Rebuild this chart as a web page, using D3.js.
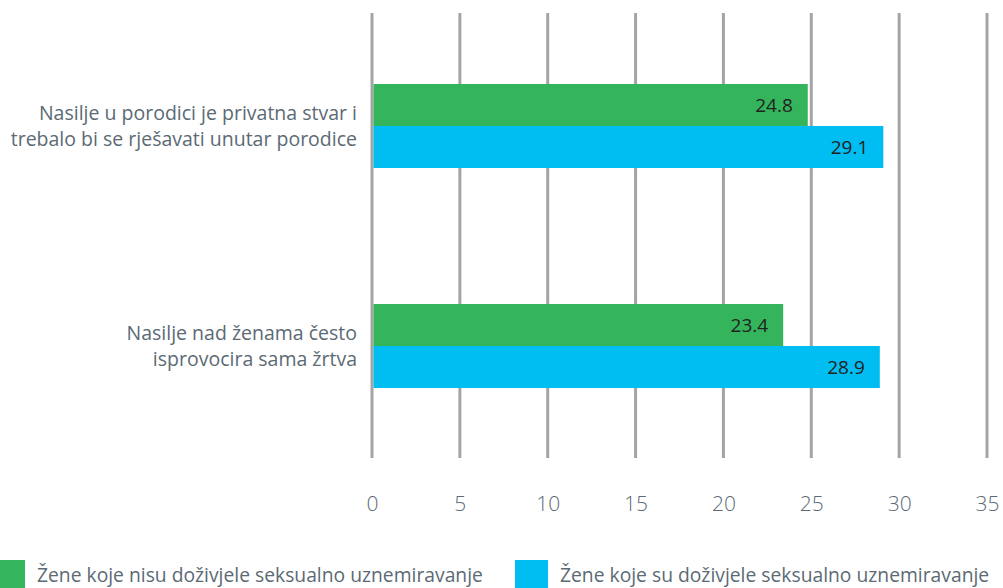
<!DOCTYPE html>
<html><head><meta charset="utf-8">
<script src="https://cdn.jsdelivr.net/npm/d3@7"></script>
<style>
html,body{margin:0;padding:0;background:#fff;}
svg{display:block;font-family:"Open Sans",sans-serif;}
</style></head>
<body><svg id="c" width="1003" height="588"></svg>
<script>
const categories = [
  ["Nasilje u porodici je privatna stvar i", "trebalo bi se rješavati unutar porodice"],
  ["Nasilje nad ženama često", "isprovocira sama žrtva"]
];
const seriesNames = ["Žene koje nisu doživjele seksualno uznemiravanje", "Žene koje su doživjele seksualno uznemiravanje"];
const seriesNot = [24.8, 23.4];
const seriesYes = [29.1, 28.9];
const tickValues = [0, 5, 10, 15, 20, 25, 30, 35];
const colors = ["#35b55b", "#00bdf2"];

const svg = d3.select("#c");
const x = d3.scaleLinear().domain([0, 35]).range([372, 987]);
const y = d3.scaleBand().domain(d3.range(categories.length)).range([16, 456]).paddingInner(0.618).paddingOuter(0.309);
const sub = d3.scaleBand().domain([0, 1]).range([0, y.bandwidth()]);

// gridlines
svg.append("g").selectAll("line").data(tickValues).join("line")
  .attr("x1", d => x(d)).attr("x2", d => x(d))
  .attr("y1", 13).attr("y2", 458)
  .attr("stroke", "#a3a5a4").attr("stroke-width", 3);

// tick labels
const ax = svg.append("g").attr("transform", "translate(0,468)")
  .call(d3.axisBottom(x).tickValues(tickValues).tickSize(0).tickPadding(0).tickFormat(d3.format("d")));
ax.select(".domain").remove();
ax.selectAll("text").attr("dy", "0").attr("y", 43)
  .attr("font-size", 21).attr("fill", "#5b6a74").attr("font-family", "'Open Sans',sans-serif").attr("font-weight", 300);

const data = categories.map((c, i) => ({i, vals: [seriesNot[i], seriesYes[i]]}));
const g = svg.append("g").selectAll("g").data(data).join("g")
  .attr("transform", d => `translate(0,${y(d.i)})`);

g.selectAll("rect").data(d => d.vals).join("rect")
  .attr("x", x(0) + 1.5)
  .attr("y", (v, j) => sub(j))
  .attr("width", v => x(v) - x(0) - 1.5)
  .attr("height", sub.bandwidth())
  .attr("fill", (v, j) => colors[j]);

g.selectAll("text.val").data(d => d.vals).join("text").attr("class", "val")
  .attr("x", v => x(v) - 15)
  .attr("y", (v, j) => sub(j) + sub.bandwidth() / 2 + 7)
  .attr("text-anchor", "end").attr("font-size", 19).attr("fill", "#222")
  .text(v => v.toFixed(1));

// category labels
svg.append("g").selectAll("text").data(categories).join("text")
  .attr("text-anchor", "end").attr("font-size", 19.5).attr("fill", "#5b6a74")
  .attr("x", 357)
  .attr("y", (d, i) => y(i) + y.bandwidth() / 2 - 6)
  .selectAll("tspan").data(d => d).join("tspan")
  .attr("x", 357).attr("dy", (d, k) => k === 0 ? 0 : 26).text(d => d);

// legend
const legX = [0, 515];
const leg = svg.append("g").selectAll("g").data(seriesNames).join("g")
  .attr("transform", (d, i) => `translate(${legX[i]},560)`);
leg.append("rect").attr("x", 0).attr("y", 0).attr("width", (d, i) => i === 0 ? 25 : 33).attr("height", 30)
  .attr("fill", (d, i) => colors[i]);
leg.append("text").attr("x", (d, i) => i === 0 ? 37 : 45).attr("y", 22)
  .attr("font-size", 19.3).attr("fill", "#5b6a74").text(d => d);
</script></body></html>
